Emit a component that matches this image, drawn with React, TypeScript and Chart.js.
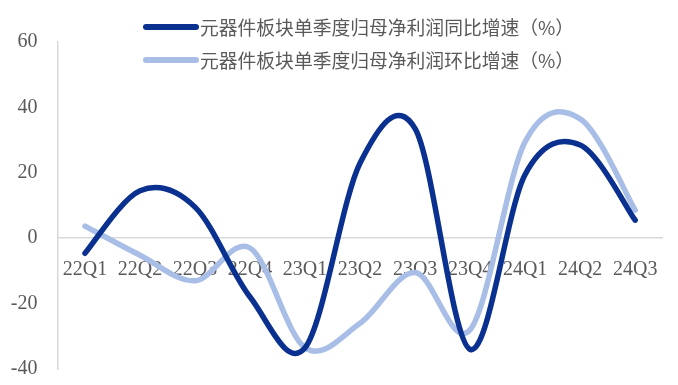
import React, { useEffect, useRef } from "react";
import { Chart, registerables } from "chart.js";

Chart.register(...registerables);

// Quarterly categories along the x axis
const quarters = ["22Q1", "22Q2", "22Q3", "22Q4", "23Q1", "23Q2", "23Q3", "23Q4", "24Q1", "24Q2", "24Q3"];

// Year-over-year growth of quarterly net profit attributable to parent (%)
const yoyGrowth = [-4.6, 14.5, 9.5, -18, -33.5, 23, 33.5, -34, 19.5, 28.5, 5.5];

// Quarter-over-quarter growth of quarterly net profit attributable to parent (%)
const qoqGrowth = [3.7, -5.2, -13, -3, -33.5, -26, -10.5, -28, 29.5, 36.5, 8.6];

const seriesNames = [
  "元器件板块单季度归母净利润同比增速（%）",
  "元器件板块单季度归母净利润环比增速（%）",
];

const yMin = -40;
const yMax = 60;
const yStep = 20;

const DARK = "#0b3190";
const LIGHT = "#a8bee6";
const TEXT = "#595959";
const AXIS = "#d9d9d9";

// Uniform Catmull-Rom control points (spreadsheet-style smoothed lines)
// computed from the pixel positions the scales gave each point.
const smoothLines = {
  id: "smoothLines",
  beforeDatasetsDraw(chart: any) {
    chart.getSortedVisibleDatasetMetas().forEach((meta: any) => {
      const line = meta.dataset;
      const pts = meta.data;
      if (!line || !pts || pts.length < 2) return;
      if (typeof line.updateControlPoints === "function") {
        line.updateControlPoints(chart.chartArea, "x");
      }
      const n = pts.length;
      for (let i = 0; i < n; i++) {
        const prev = pts[Math.max(i - 1, 0)];
        const next = pts[Math.min(i + 1, n - 1)];
        const tx = (next.x - prev.x) / 6;
        const ty = (next.y - prev.y) / 6;
        pts[i].cp1x = pts[i].x - tx;
        pts[i].cp1y = pts[i].y - ty;
        pts[i].cp2x = pts[i].x + tx;
        pts[i].cp2y = pts[i].y + ty;
      }
      line._path = undefined;
    });
  },
};

// Legend stacked in two rows, each with a short line sample before its label
const stackedLegend = {
  id: "stackedLegend",
  afterDraw(chart: any) {
    const ctx = chart.ctx as CanvasRenderingContext2D;
    ctx.save();
    chart.data.datasets.forEach((ds: any, i: number) => {
      const y = 27 + i * 33;
      ctx.strokeStyle = ds.borderColor;
      ctx.lineWidth = 6;
      ctx.lineCap = "round";
      ctx.beginPath();
      ctx.moveTo(146, y);
      ctx.lineTo(196, y);
      ctx.stroke();
      ctx.fillStyle = TEXT;
      ctx.font = '18.8px "Noto Sans CJK SC"';
      ctx.textBaseline = "middle";
      ctx.textAlign = "left";
      ctx.fillText(ds.label, 200, y + 1);
    });
    ctx.restore();
  },
};

export default function App() {
  const canvasRef = useRef<HTMLCanvasElement | null>(null);

  useEffect(() => {
    document.body.style.margin = "0";
    const canvas = canvasRef.current;
    if (!canvas) return;
    const chart = new Chart(canvas, {
      type: "line",
      data: {
        labels: quarters,
        datasets: [
          {
            label: seriesNames[0],
            data: yoyGrowth,
            borderColor: DARK,
            borderWidth: 5.5,
            pointRadius: 0,
            tension: 0.4,
            fill: false,
            borderCapStyle: "round",
            borderJoinStyle: "round",
          },
          {
            label: seriesNames[1],
            data: qoqGrowth,
            borderColor: LIGHT,
            borderWidth: 5.5,
            pointRadius: 0,
            tension: 0.4,
            fill: false,
            borderCapStyle: "round",
            borderJoinStyle: "round",
          },
        ],
      },
      options: {
        animation: false,
        responsive: true,
        maintainAspectRatio: false,
        layout: { padding: { top: 42, right: 13.5, bottom: 16, left: 0 } },
        plugins: {
          legend: { display: false },
          tooltip: { enabled: false },
        },
        scales: {
          x: {
            type: "category",
            position: { y: 0 },
            offset: true,
            grid: { display: false, drawTicks: false },
            border: { display: true, color: AXIS, width: 1.5 },
            ticks: {
              color: TEXT,
              font: { family: '"Liberation Serif", serif', size: 20 },
              padding: 20,
              maxRotation: 0,
              autoSkip: false,
            },
          },
          y: {
            min: yMin,
            max: yMax,
            grid: { display: false, drawTicks: false },
            border: { display: true, color: AXIS, width: 1.5 },
            ticks: {
              stepSize: yStep,
              color: TEXT,
              font: { family: '"Liberation Serif", serif', size: 20 },
              padding: 20,
            },
            afterFit(scale: any) {
              scale.width = 57.5;
              scale.paddingTop = 0;
              scale.paddingBottom = 0;
            },
          },
        },
      },
      plugins: [smoothLines, stackedLegend],
    });
    return () => chart.destroy();
  }, []);

  return (
    <div style={{ width: 678, height: 385, position: "relative" }}>
      <canvas ref={canvasRef} />
    </div>
  );
}
